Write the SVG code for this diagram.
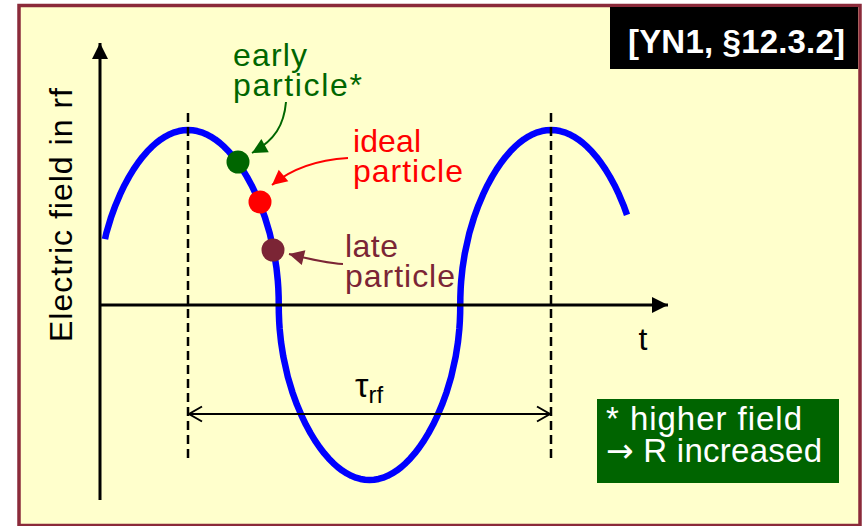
<svg xmlns="http://www.w3.org/2000/svg" width="864" height="526" viewBox="0 0 864 526">
<style>
  text { font-family: "Liberation Sans", Arial, sans-serif; }
  .ax { stroke: #000; stroke-width: 3; fill: none; }
  .dash { stroke: #000; stroke-width: 2.5; stroke-dasharray: 9 5; fill: none; }
  .dim { stroke: #000; stroke-width: 2; fill: none; }
  .wave { stroke: #0000FF; stroke-width: 6.5; fill: none; stroke-linejoin: round; }
  .lbl { font-size: 32px; }
</style>
<defs>
  <marker id="axHead" markerUnits="userSpaceOnUse" markerWidth="16" markerHeight="16" refX="16" refY="8" orient="auto" overflow="visible">
    <path d="M0,0 L16,8 L0,16 z" fill="#000"/>
  </marker>
  <marker id="dimHead" markerUnits="userSpaceOnUse" markerWidth="14" markerHeight="16" refX="13" refY="7.5" orient="auto-start-reverse" overflow="visible">
    <path d="M0,0 L13,7.5 L0,15" fill="none" stroke="#000" stroke-width="2"/>
  </marker>
  <marker id="hGreen" markerUnits="userSpaceOnUse" markerWidth="16" markerHeight="16" refX="15" refY="7.5" orient="auto" overflow="visible">
    <path d="M0,0 L15,7.5 L0,15 z" fill="#006600"/>
  </marker>
  <marker id="hRed" markerUnits="userSpaceOnUse" markerWidth="16" markerHeight="16" refX="15" refY="7.5" orient="auto" overflow="visible">
    <path d="M0,0 L15,7.5 L0,15 z" fill="#FF0000"/>
  </marker>
  <marker id="hMaroon" markerUnits="userSpaceOnUse" markerWidth="16" markerHeight="16" refX="15" refY="7.5" orient="auto" overflow="visible">
    <path d="M0,0 L15,7.5 L0,15 z" fill="#7B2535"/>
  </marker>
</defs>

<rect id="frame" x="19" y="5.5" width="841" height="520" fill="#FFFFCC" stroke="#8B2A3A" stroke-width="3.5"/>

<g id="wave">
  <path class="wave" d="M105,239.1 L106.32,233.16 L110.86,217.96 L115.40,205.41 L119.94,194.65 L124.47,185.21 L129.01,176.85 L133.55,169.41 L138.09,162.74 L142.62,156.83 L147.16,151.56 L151.70,146.92 L156.24,142.90 L160.77,139.43 L165.31,136.53 L169.85,134.17 L174.39,132.35 L178.92,131.03 L183.46,130.26 L188,130
  L192.54,130.26 L197.08,131.03 L201.61,132.35 L206.15,134.17 L210.69,136.53 L215.23,139.43 L219.76,142.90 L224.30,146.92 L228.84,151.56 L233.38,156.83 L237.91,162.74 L242.45,169.41 L246.99,176.85 L251.53,185.21 L256.06,194.65 L260.60,205.41 L265.14,217.96 L269.68,233.16 L274.21,253.43 L276.48,268.00 L277.84,281.20 L278.30,287.90 L278.66,297.10 L278.75,305
  L278.84,312.90 L279.20,322.10 L279.66,328.80 L281.02,342.00 L283.29,356.57 L287.82,376.84 L292.36,392.04 L296.90,404.59 L301.44,415.35 L305.97,424.79 L310.51,433.15 L315.05,440.59 L319.59,447.26 L324.12,453.17 L328.66,458.44 L333.20,463.08 L337.74,467.10 L342.27,470.57 L346.81,473.47 L351.35,475.83 L355.89,477.65 L360.42,478.97 L364.96,479.74 L369.5,480
  L374.04,479.74 L378.58,478.97 L383.11,477.65 L387.65,475.83 L392.19,473.47 L396.73,470.57 L401.26,467.10 L405.80,463.08 L410.34,458.44 L414.88,453.17 L419.41,447.26 L423.95,440.59 L428.49,433.15 L433.03,424.79 L437.56,415.35 L442.10,404.59 L446.64,392.04 L451.18,376.84 L455.71,356.57 L457.98,342.00 L459.34,328.80 L459.80,322.10 L460.16,312.90 L460.25,305
  L460.34,297.10 L460.70,287.90 L461.16,281.20 L462.52,268.00 L464.79,253.43 L469.32,233.16 L473.86,217.96 L478.40,205.41 L482.94,194.65 L487.47,185.21 L492.01,176.85 L496.55,169.41 L501.09,162.74 L505.62,156.83 L510.16,151.56 L514.70,146.92 L519.24,142.90 L523.77,139.43 L528.31,136.53 L532.85,134.17 L537.39,132.35 L541.92,131.03 L546.46,130.26 L551,130
  L555.54,130.26 L560.08,131.03 L564.61,132.35 L569.15,134.17 L573.69,136.53 L578.23,139.43 L582.76,142.90 L587.30,146.92 L591.84,151.56 L596.38,156.83 L600.91,162.74 L605.45,169.41 L609.99,176.85 L614.53,185.21 L619.06,194.65 L623.60,205.41 L627,214.8"/>
</g>

<g id="period-marks">
  <line class="dash" x1="188" y1="113" x2="188" y2="462"/>
  <line class="dash" x1="551" y1="113" x2="551" y2="462"/>
</g>

<g id="axes">
  <line class="ax" x1="100" y1="500" x2="100" y2="43" marker-end="url(#axHead)"/>
  <line class="ax" x1="100" y1="305" x2="668" y2="305" marker-end="url(#axHead)"/>
  <text class="lbl" x="643" y="350" text-anchor="middle" font-size="33">t</text>
  <text class="lbl" transform="translate(72,215) rotate(-90)" text-anchor="middle" textLength="254">Electric field in rf</text>
</g>

<g id="period">
  <line class="dim" x1="189" y1="414" x2="550" y2="414" marker-start="url(#dimHead)" marker-end="url(#dimHead)"/>
  <text x="355" y="397" font-size="34">τ<tspan font-size="24" dy="6">rf</tspan></text>
</g>

<g id="connectors">
  <path d="M286,102 C284,125 275,140 252,153" fill="none" stroke="#006600" stroke-width="2" marker-end="url(#hGreen)"/>
  <path d="M348,158 C315,160 290,170 272,185" fill="none" stroke="#FF0000" stroke-width="2" marker-end="url(#hRed)"/>
  <path d="M343,264 C325,263 305,258 289,254" fill="none" stroke="#7B2535" stroke-width="2" marker-end="url(#hMaroon)"/>
</g>

<g id="early-particle">
  <circle cx="238" cy="162" r="11.5" fill="#006600"/>
  <text class="lbl" x="233" y="66" fill="#006600" textLength="74">early</text>
  <text class="lbl" x="233" y="96" fill="#006600" textLength="129">particle*</text>
</g>

<g id="ideal-particle">
  <circle cx="260" cy="202" r="11.5" fill="#FF0000"/>
  <text class="lbl" x="353" y="152" fill="#FF0000" textLength="68">ideal</text>
  <text class="lbl" x="353" y="182" fill="#FF0000" textLength="110">particle</text>
</g>

<g id="late-particle">
  <circle cx="273" cy="250" r="11.5" fill="#7B2535"/>
  <text class="lbl" x="345" y="257" fill="#7B2535" textLength="53">late</text>
  <text class="lbl" x="345" y="287" fill="#7B2535" textLength="110">particle</text>
</g>

<g id="reference">
  <rect x="610" y="7" width="248" height="62" fill="#000"/>
  <text x="628" y="53" fill="#FFFFFF" font-size="33" font-weight="bold" textLength="217">[YN1, §12.3.2]</text>
</g>

<g id="note">
  <rect x="597" y="399" width="242" height="84" fill="#006400"/>
  <text x="606" y="430" fill="#FFFFFF" font-size="33" textLength="196">* higher field</text>
  <text x="606" y="462" fill="#FFFFFF" font-size="33" textLength="216"><tspan font-family="'DejaVu Sans', sans-serif">→</tspan> R increased</text>
</g>
</svg>
